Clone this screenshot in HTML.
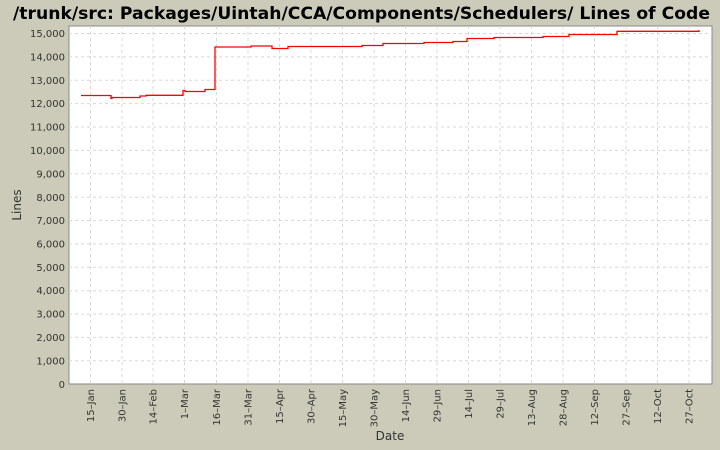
<!DOCTYPE html>
<html><head><style>
body{margin:0;background:#cccbb9;}
svg{display:block;font-family:"DejaVu Sans","Liberation Sans",sans-serif;}
</style></head><body>
<svg width="720" height="450" xmlns="http://www.w3.org/2000/svg">
<rect width="720" height="450" fill="#cccbb9"/>
<text x="13" y="19" font-size="16.5" font-weight="bold" fill="#000" textLength="697" lengthAdjust="spacingAndGlyphs">/trunk/src: Packages/Uintah/CCA/Components/Schedulers/ Lines of Code</text>
<rect x="69" y="26" width="643" height="358" fill="#fff" stroke="#888"/>
<g stroke="#d8d8d8" stroke-dasharray="3,3" stroke-width="1">
<line x1="69" x2="712" y1="33.5" y2="33.5"/><line x1="69" x2="712" y1="56.9" y2="56.9"/><line x1="69" x2="712" y1="80.3" y2="80.3"/><line x1="69" x2="712" y1="103.6" y2="103.6"/><line x1="69" x2="712" y1="127" y2="127"/><line x1="69" x2="712" y1="150.4" y2="150.4"/><line x1="69" x2="712" y1="173.8" y2="173.8"/><line x1="69" x2="712" y1="197.2" y2="197.2"/><line x1="69" x2="712" y1="220.5" y2="220.5"/><line x1="69" x2="712" y1="243.9" y2="243.9"/><line x1="69" x2="712" y1="267.3" y2="267.3"/><line x1="69" x2="712" y1="290.7" y2="290.7"/><line x1="69" x2="712" y1="314.1" y2="314.1"/><line x1="69" x2="712" y1="337.4" y2="337.4"/><line x1="69" x2="712" y1="360.8" y2="360.8"/>
<line y1="26" y2="384" x1="90.5" x2="90.5"/><line y1="26" y2="384" x1="122" x2="122"/><line y1="26" y2="384" x1="153" x2="153"/><line y1="26" y2="384" x1="184.5" x2="184.5"/><line y1="26" y2="384" x1="216.5" x2="216.5"/><line y1="26" y2="384" x1="248" x2="248"/><line y1="26" y2="384" x1="279.5" x2="279.5"/><line y1="26" y2="384" x1="311" x2="311"/><line y1="26" y2="384" x1="342.5" x2="342.5"/><line y1="26" y2="384" x1="374" x2="374"/><line y1="26" y2="384" x1="405.5" x2="405.5"/><line y1="26" y2="384" x1="437" x2="437"/><line y1="26" y2="384" x1="468.5" x2="468.5"/><line y1="26" y2="384" x1="500" x2="500"/><line y1="26" y2="384" x1="531.5" x2="531.5"/><line y1="26" y2="384" x1="563" x2="563"/><line y1="26" y2="384" x1="594.5" x2="594.5"/><line y1="26" y2="384" x1="626" x2="626"/><line y1="26" y2="384" x1="657.5" x2="657.5"/><line y1="26" y2="384" x1="689" x2="689"/>
</g>
<g font-size="10" text-anchor="end" fill="#333">
<text x="65" y="37">15,000</text><text x="65" y="60.5">14,000</text><text x="65" y="84">13,000</text><text x="65" y="107">12,000</text><text x="65" y="130.5">11,000</text><text x="65" y="154">10,000</text><text x="65" y="177.5">9,000</text><text x="65" y="201">8,000</text><text x="65" y="224">7,000</text><text x="65" y="247.5">6,000</text><text x="65" y="271">5,000</text><text x="65" y="294">4,000</text><text x="65" y="317.5">3,000</text><text x="65" y="341">2,000</text><text x="65" y="364.5">1,000</text><text x="65" y="388">0</text>
</g>
<g font-size="10" text-anchor="end" fill="#333">
<text transform="translate(94,389) rotate(-90)">15–Jan</text><text transform="translate(125.5,389) rotate(-90)">30–Jan</text><text transform="translate(156.5,389) rotate(-90)">14–Feb</text><text transform="translate(188,389) rotate(-90)">1–Mar</text><text transform="translate(220,389) rotate(-90)">16–Mar</text><text transform="translate(251.5,389) rotate(-90)">31–Mar</text><text transform="translate(283,389) rotate(-90)">15–Apr</text><text transform="translate(314.5,389) rotate(-90)">30–Apr</text><text transform="translate(346,389) rotate(-90)">15–May</text><text transform="translate(377.5,389) rotate(-90)">30–May</text><text transform="translate(409,389) rotate(-90)">14–Jun</text><text transform="translate(440.5,389) rotate(-90)">29–Jun</text><text transform="translate(472,389) rotate(-90)">14–Jul</text><text transform="translate(503.5,389) rotate(-90)">29–Jul</text><text transform="translate(535,389) rotate(-90)">13–Aug</text><text transform="translate(566.5,389) rotate(-90)">28–Aug</text><text transform="translate(598,389) rotate(-90)">12–Sep</text><text transform="translate(629.5,389) rotate(-90)">27–Sep</text><text transform="translate(661,389) rotate(-90)">12–Oct</text><text transform="translate(692.5,389) rotate(-90)">27–Oct</text>
</g>
<text x="390" y="440" text-anchor="middle" font-size="12" fill="#333">Date</text>
<text transform="translate(21,205) rotate(-90)" text-anchor="middle" font-size="12" fill="#333">Lines</text>
<polyline fill="none" stroke="#f00" stroke-width="1.3" points="81,95.5 111,95.5 111,98.5 112,98.5 112,97.5 140,97.5 140,96 146,96 146,95.3 183,95.3 183,90.5 185,90.5 185,91.5 205,91.5 205,89.5 215,89.5 215,47 251,47 251,46 272,46 272,48.5 288,48.5 288,46.5 362,46.5 362,45.5 383,45.5 383,43.5 424,43.5 424,42.5 453,42.5 453,41.5 467,41.5 467,38.5 494,38.5 494,37.5 543,37.5 543,36.5 569,36.5 569,34.5 617,34.5 617,31.3 699,31.3 699,30"/>
</svg>
</body></html>
